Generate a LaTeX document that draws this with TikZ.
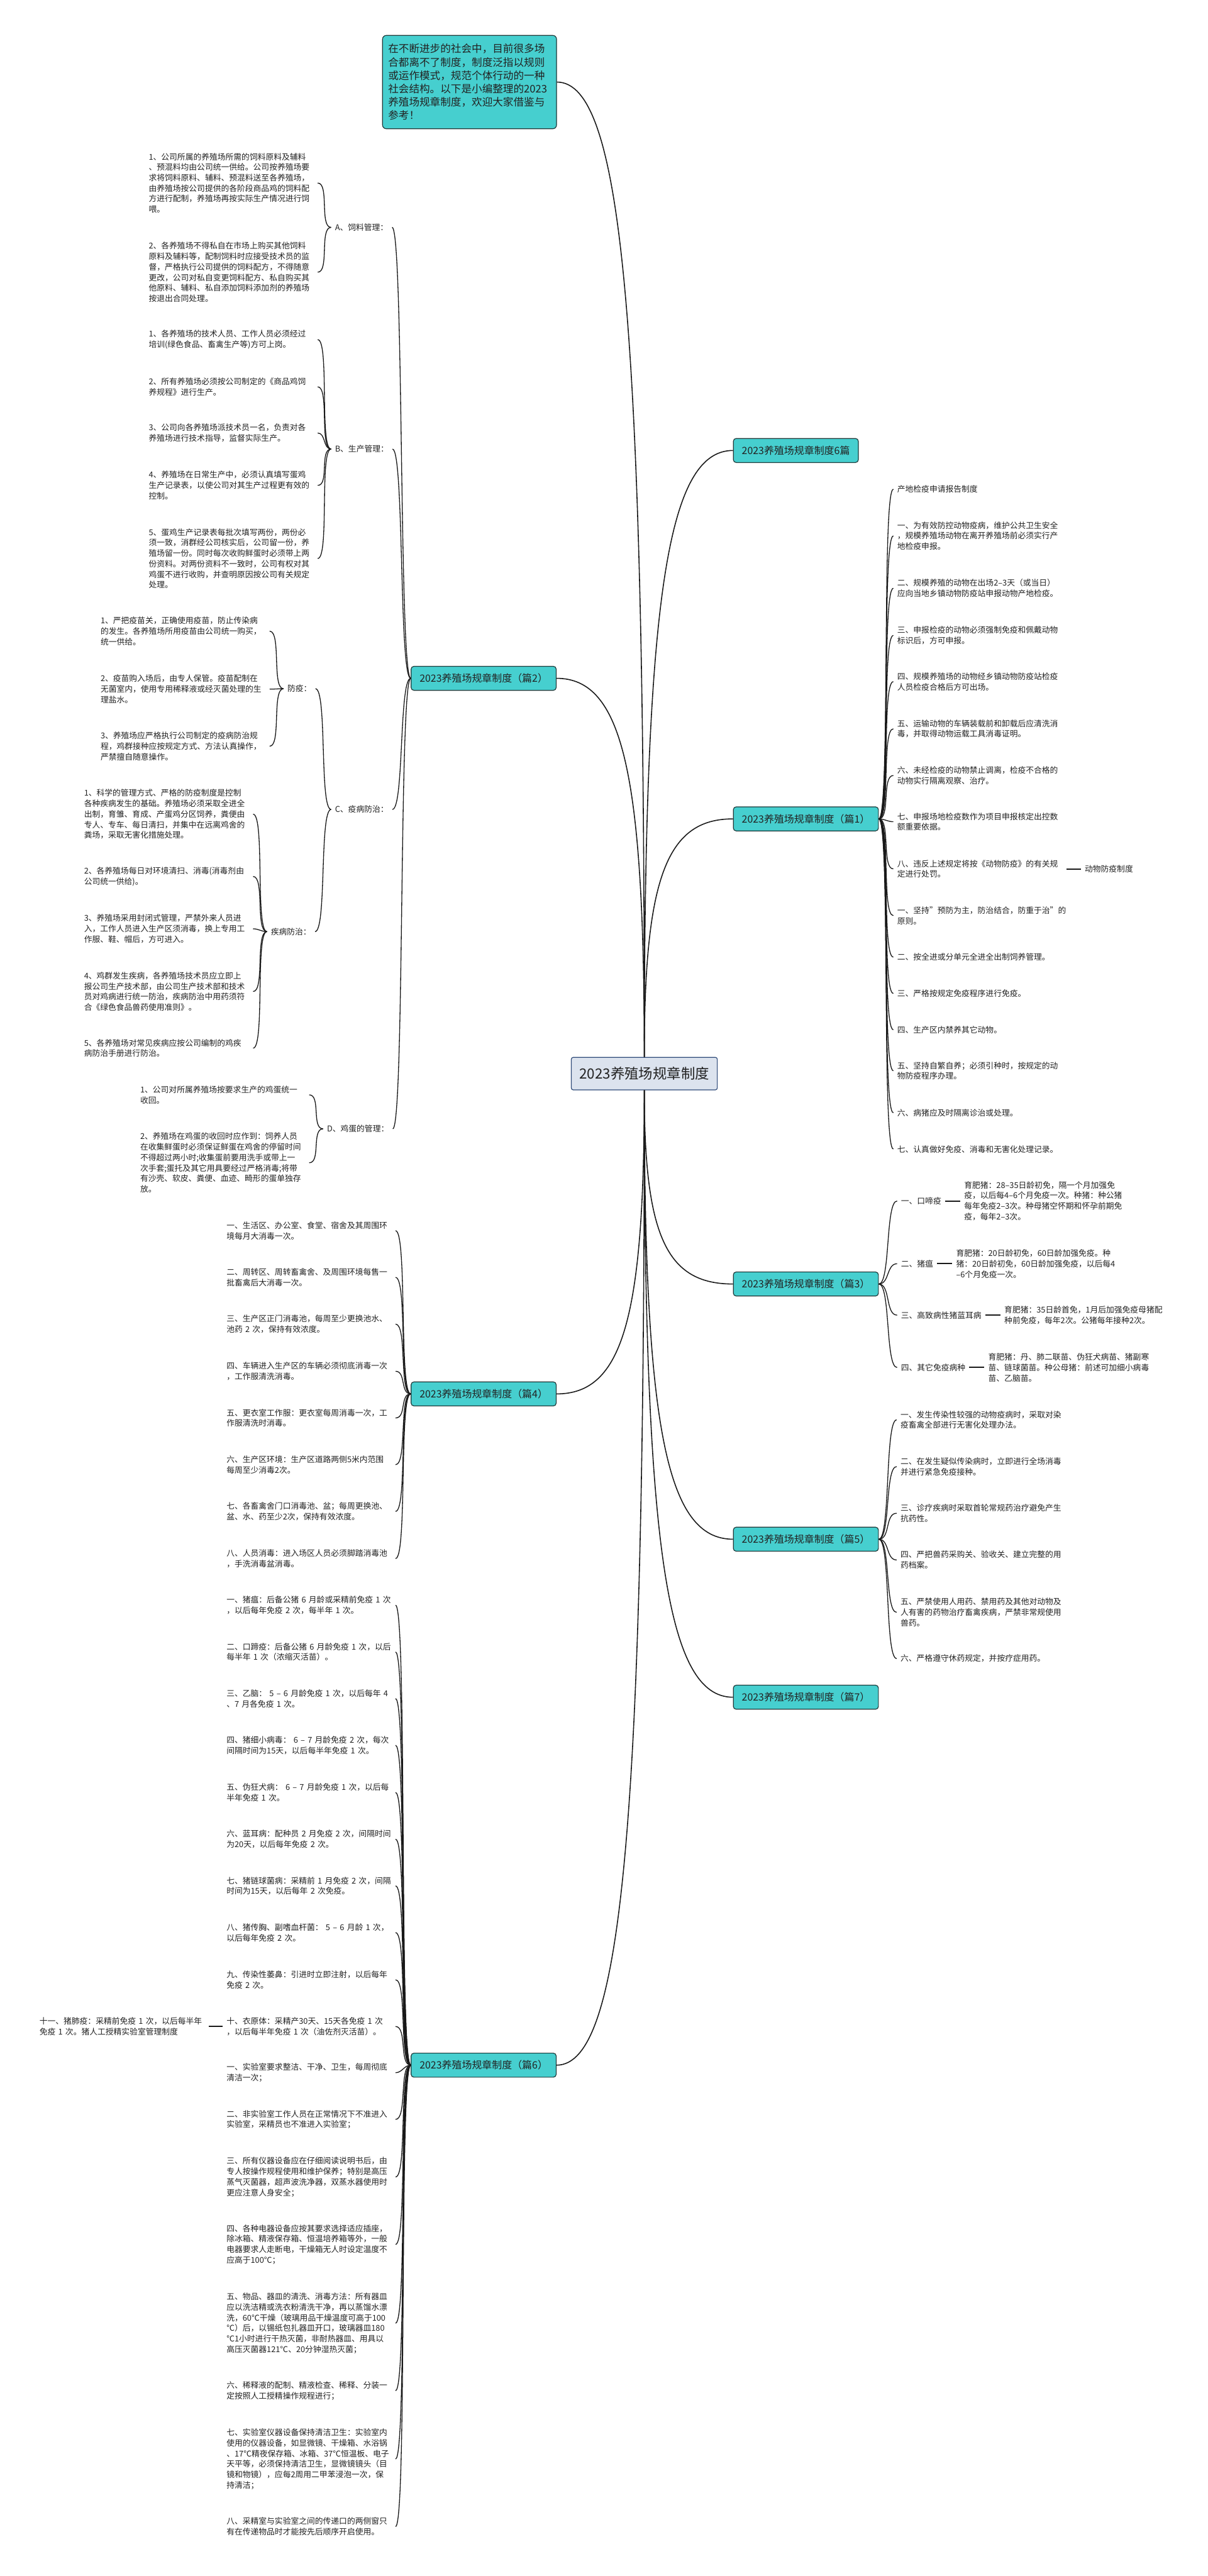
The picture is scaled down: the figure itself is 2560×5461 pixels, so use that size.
\documentclass[tikz,border=0pt]{standalone}
\usepackage{fontspec}
\setmainfont{Noto Sans CJK SC}
\usetikzlibrary{positioning}
\definecolor{tealFill}{HTML}{46CFCF}
\definecolor{tealLine}{HTML}{1E3A3A}
\definecolor{rootFill}{HTML}{DCE3EE}
\definecolor{rootLine}{HTML}{2E4A78}
\definecolor{inkDark}{HTML}{222222}

\begin{document}
\begin{tikzpicture}[
    x=0.02cm, y=-0.02cm,
    node distance=0.62cm,
    text=inkDark,
    root/.style={draw=rootLine, line width=0.9pt, fill=rootFill, rounded corners=0.08cm, minimum height=1.38cm, inner xsep=0.34cm, font=\fontsize{17}{20}\selectfont},
    branch/.style={draw=tealLine, line width=0.9pt, fill=tealFill, rounded corners=0.12cm, minimum height=1.02cm, inner xsep=0.36cm, font=\fontsize{12.1}{14}\selectfont},
    intro/.style={draw=tealLine, line width=0.9pt, fill=tealFill, rounded corners=0.16cm, text width=6.9cm, align=left, inner xsep=0.24cm, inner ysep=0.36cm, font=\fontsize{12.6}{16.1}\selectfont},
    leaf/.style={anchor=west, text width=7cm, align=left, inner xsep=0.16cm, inner ysep=0pt, font=\fontsize{9.7}{12.7}\selectfont},
    lbl/.style={anchor=west, inner xsep=0.16cm, inner ysep=0pt, font=\fontsize{9.7}{12.7}\selectfont},
    trunk/.style={line width=1.2pt, draw=black!90},
    twig/.style={line width=1pt, draw=black!90},
    stub/.style={line width=1.6pt, draw=black!90},
    rtwig/.style={out=0, in=180, max distance=0.5cm},
    ltwig/.style={out=180, in=0, max distance=0.5cm}
]
    \path[use as bounding box, fill=white] (0,0) rectangle (2560,5461);

    \node[root] (root) at (1366,2276) {2023养殖场规章制度};
    \node[intro] (intro) at (995.5,174) {在不断进步的社会中，目前很多场\\合都离不了制度，制度泛指以规则\\或运作模式，规范个体行动的一种\\社会结构。以下是小编整理的2023\\养殖场规章制度，欢迎大家借鉴与\\参考！};

    \node[branch, anchor=west] (all6) at (1554,955) {2023养殖场规章制度6篇};
    \node[branch, anchor=west] (p1) at (1554,1736) {2023养殖场规章制度（篇1）};
    \node[branch, anchor=east] (p2) at (1180,1438) {2023养殖场规章制度（篇2）};
    \node[branch, anchor=west] (p3) at (1554,2722) {2023养殖场规章制度（篇3）};
    \node[branch, anchor=east] (p4) at (1180,2955) {2023养殖场规章制度（篇4）};
    \node[branch, anchor=west] (p5) at (1554,3263) {2023养殖场规章制度（篇5）};
    \node[branch, anchor=east] (p6) at (1180,4378) {2023养殖场规章制度（篇6）};
    \node[branch, anchor=west] (p7) at (1554,3598) {2023养殖场规章制度（篇7）};

    \draw[trunk] (root.north) .. controls +(0,-1550) and +(140,0) .. (intro.east);
    \draw[trunk] (root.north) .. controls +(0,-965) and +(-141,0) .. (all6.west);
    \draw[trunk] (root.north) .. controls +(0,-379) and +(-141,0) .. (p1.west);
    \draw[trunk] (root.north) .. controls +(0,-602) and +(140,0) .. (p2.east);
    \draw[trunk] (root.south) .. controls +(0,309) and +(-141,0) .. (p3.west);
    \draw[trunk] (root.south) .. controls +(0,484) and +(140,0) .. (p4.east);
    \draw[trunk] (root.south) .. controls +(0,715) and +(-141,0) .. (p5.west);
    \draw[trunk] (root.south) .. controls +(0,1551) and +(140,0) .. (p6.east);
    \draw[trunk] (root.south) .. controls +(0,966) and +(-141,0) .. (p7.west);

    % 篇1
    \node[leaf] (p1a) at (1894,1037) {产地检疫申请报告制度};
    \node[leaf] (p1b) at (1894,1136) {一、为有效防控动物疫病，维护公共卫生安全\\，规模养殖场动物在离开养殖场前必须实行产\\地检疫申报。};
    \node[leaf] (p1c) at (1894,1247) {二、规模养殖的动物在出场2–3天（或当日）\\应向当地乡镇动物防疫站申报动物产地检疫。};
    \node[leaf] (p1d) at (1894,1347) {三、申报检疫的动物必须强制免疫和佩戴动物\\标识后，方可申报。};
    \node[leaf] (p1e) at (1894,1445) {四、规模养殖场的动物经乡镇动物防疫站检疫\\人员检疫合格后方可出场。};
    \node[leaf] (p1f) at (1894,1545) {五、运输动物的车辆装载前和卸载后应清洗消\\毒，并取得动物运载工具消毒证明。};
    \node[leaf] (p1g) at (1894,1644) {六、未经检疫的动物禁止调离，检疫不合格的\\动物实行隔离观察、治疗。};
    \node[leaf] (p1h) at (1894,1742) {七、申报场地检疫数作为项目申报核定出控数\\额重要依据。};
    \node[leaf] (p1i) at (1894,1842) {八、违反上述规定将按《动物防疫》的有关规\\定进行处罚。};
    \node[lbl, right=of p1i] (p1ii) {动物防疫制度};
    \node[leaf] (p1j) at (1894,1941) {一、坚持"预防为主，防治结合，防重于治"的\\原则。};
    \node[leaf] (p1k) at (1894,2029) {二、按全进或分单元全进全出制饲养管理。};
    \node[leaf] (p1l) at (1894,2106) {三、严格按规定免疫程序进行免疫。};
    \node[leaf] (p1m) at (1894,2183) {四、生产区内禁养其它动物。};
    \node[leaf] (p1n) at (1894,2270) {五、坚持自繁自养；必须引种时，按规定的动\\物防疫程序办理。};
    \node[leaf] (p1o) at (1894,2359) {六、病猪应及时隔离诊治或处理。};
    \node[leaf] (p1p) at (1894,2436) {七、认真做好免疫、消毒和无害化处理记录。};

    \draw[twig] (p1.east) edge[rtwig] (p1a.west) edge[rtwig] (p1b.west) edge[rtwig] (p1c.west)
        edge[rtwig] (p1d.west) edge[rtwig] (p1e.west) edge[rtwig] (p1f.west) edge[rtwig] (p1g.west)
        edge[rtwig] (p1h.west) edge[rtwig] (p1i.west) edge[rtwig] (p1j.west) edge[rtwig] (p1k.west)
        edge[rtwig] (p1l.west) edge[rtwig] (p1m.west) edge[rtwig] (p1n.west) edge[rtwig] (p1o.west)
        edge[rtwig] (p1p.west);
    \draw[stub] (p1i.east) -- (p1ii.west);

    % 篇2
    \node[lbl] (p2A) at (702,482) {A、饲料管理：};
    \node[lbl] (p2B) at (702,952) {B、生产管理：};
    \node[lbl] (p2C) at (702,1716) {C、疫病防治：};
    \node[lbl] (p2D) at (685,2393) {D、鸡蛋的管理：};
    \node[lbl] (p2F) at (601,1460) {防疫：};
    \node[lbl] (p2J) at (566,1975) {疾病防治：};

    \node[leaf] (p2A1) at (307,388) {1、公司所属的养殖场所需的饲料原料及辅料\\、预混料均由公司统一供给。公司按养殖场要\\求将饲料原料、辅料、预混料送至各养殖场，\\由养殖场按公司提供的各阶段商品鸡的饲料配\\方进行配制，养殖场再按实际生产情况进行饲\\喂。};
    \node[leaf] (p2A2) at (307,577) {2、各养殖场不得私自在市场上购买其他饲料\\原料及辅料等，配制饲料时应接受技术员的监\\督，严格执行公司提供的饲料配方，不得随意\\更改，公司对私自变更饲料配方、私自购买其\\他原料、辅料、私自添加饲料添加剂的养殖场\\按退出合同处理。};
    \node[leaf] (p2B1) at (307,720) {1、各养殖场的技术人员、工作人员必须经过\\培训(绿色食品、畜禽生产等)方可上岗。};
    \node[leaf] (p2B2) at (307,820) {2、所有养殖场必须按公司制定的《商品鸡饲\\养规程》进行生产。};
    \node[leaf] (p2B3) at (307,918) {3、公司向各养殖场派技术员一名，负责对各\\养殖场进行技术指导，监督实际生产。};
    \node[leaf] (p2B4) at (307,1029) {4、养殖场在日常生产中，必须认真填写蛋鸡\\生产记录表，以使公司对其生产过程更有效的\\控制。};
    \node[leaf] (p2B5) at (307,1184) {5、蛋鸡生产记录表每批次填写两份，两份必\\须一致，消群经公司核实后，公司留一份，养\\殖场留一份。同时每次收购鲜蛋时必须带上两\\份资料。对两份资料不一致时，公司有权对其\\鸡蛋不进行收购，并查明原因按公司有关规定\\处理。};
    \node[leaf] (p2F1) at (205,1338) {1、严把疫苗关，正确使用疫苗，防止传染病\\的发生。各养殖场所用疫苗由公司统一购买，\\统一供给。};
    \node[leaf] (p2F2) at (205,1461) {2、疫苗购入场后，由专人保管。疫苗配制在\\无菌室内，使用专用稀释液或经灭菌处理的生\\理盐水。};
    \node[leaf] (p2F3) at (205,1582) {3、养殖场应严格执行公司制定的疫病防治规\\程，鸡群接种应按规定方式、方法认真操作，\\严禁擅自随意操作。};
    \node[leaf] (p2J1) at (170,1726) {1、科学的管理方式、严格的防疫制度是控制\\各种疾病发生的基础。养殖场必须采取全进全\\出制，育雏、育成、产蛋鸡分区饲养，粪便由\\专人、专车、每日清扫，并集中在远离鸡舍的\\粪场，采取无害化措施处理。};
    \node[leaf] (p2J2) at (170,1858) {2、各养殖场每日对环境清扫、消毒(消毒剂由\\公司统一供给)。};
    \node[leaf] (p2J3) at (170,1969) {3、养殖场采用封闭式管理，严禁外来人员进\\入，工作人员进入生产区须消毒，换上专用工\\作服、鞋、帽后，方可进入。};
    \node[leaf] (p2J4) at (170,2102) {4、鸡群发生疾病，各养殖场技术员应立即上\\报公司生产技术部，由公司生产技术部和技术\\员对鸡病进行统一防治，疾病防治中用药须符\\合《绿色食品兽药使用准则》。};
    \node[leaf] (p2J5) at (170,2222) {5、各养殖场对常见疾病应按公司编制的鸡疾\\病防治手册进行防治。};
    \node[leaf] (p2D1) at (289,2321) {1、公司对所属养殖场按要求生产的鸡蛋统一\\收回。};
    \node[leaf] (p2D2) at (289,2465) {2、养殖场在鸡蛋的收回时应作到：饲养人员\\在收集鲜蛋时必须保证鲜蛋在鸡舍的停留时间\\不得超过两小时;收集蛋前要用洗手或带上一\\次手套;蛋托及其它用具要经过严格消毒;将带\\有沙壳、软皮、粪便、血迹、畸形的蛋单独存\\放。};

    \draw[twig] (p2.west) edge[ltwig] (p2A.east) edge[ltwig] (p2B.east) edge[ltwig] (p2C.east) edge[ltwig] (p2D.east);
    \draw[twig] (p2A.west) edge[ltwig] (p2A1.east) edge[ltwig] (p2A2.east);
    \draw[twig] (p2B.west) edge[ltwig] (p2B1.east) edge[ltwig] (p2B2.east) edge[ltwig] (p2B3.east)
        edge[ltwig] (p2B4.east) edge[ltwig] (p2B5.east);
    \draw[twig] (p2C.west) edge[ltwig] (p2F.east) edge[ltwig] (p2J.east);
    \draw[twig] (p2F.west) edge[ltwig] (p2F1.east) edge[ltwig] (p2F2.east) edge[ltwig] (p2F3.east);
    \draw[twig] (p2J.west) edge[ltwig] (p2J1.east) edge[ltwig] (p2J2.east) edge[ltwig] (p2J3.east)
        edge[ltwig] (p2J4.east) edge[ltwig] (p2J5.east);
    \draw[twig] (p2D.west) edge[ltwig] (p2D1.east) edge[ltwig] (p2D2.east);

    % 篇3
    \node[lbl] (p3a) at (1902,2546) {一、口啼疫};
    \node[lbl] (p3b) at (1902,2679) {二、猪瘟};
    \node[lbl] (p3c) at (1902,2788) {三、高致病性猪蓝耳病};
    \node[lbl] (p3d) at (1902,2899) {四、其它免疫病种};
    \node[leaf, right=0.64cm of p3a] (p3aa) {育肥猪：28–35日龄初免，隔一个月加强免\\疫，以后每4–6个月免疫一次。种猪：种公猪\\每年免疫2–3次。种母猪空怀期和怀孕前期免\\疫，每年2–3次。};
    \node[leaf, right=0.64cm of p3b] (p3bb) {育肥猪：20日龄初免，60日龄加强免疫。种\\猪：20日龄初免，60日龄加强免疫，以后每4\\–6个月免疫一次。};
    \node[leaf, right=0.64cm of p3c] (p3cc) {育肥猪：35日龄首免，1月后加强免疫母猪配\\种前免疫，每年2次。公猪每年接种2次。};
    \node[leaf, right=0.64cm of p3d] (p3dd) {育肥猪：丹、肺二联苗、伪狂犬病苗、猪副寒\\苗、链球菌苗。种公母猪：前述可加细小病毒\\苗、乙脑苗。};

    \draw[twig] (p3.east) edge[rtwig] (p3a.west) edge[rtwig] (p3b.west) edge[rtwig] (p3c.west) edge[rtwig] (p3d.west);
    \draw[stub] (p3a.east) -- (p3aa.west);
    \draw[stub] (p3b.east) -- (p3bb.west);
    \draw[stub] (p3c.east) -- (p3cc.west);
    \draw[stub] (p3d.east) -- (p3dd.west);

    % 篇4
    \node[leaf] (p4a) at (472,2609) {一、生活区、办公室、食堂、宿舍及其周围环\\境每月大消毒一次。};
    \node[leaf] (p4b) at (472,2708) {二、周转区、周转畜禽舍、及周围环境每售一\\批畜禽后大消毒一次。};
    \node[leaf] (p4c) at (472,2807) {三、生产区正门消毒池，每周至少更换池水、\\池药~2~次，保持有效浓度。};
    \node[leaf] (p4d) at (472,2907) {四、车辆进入生产区的车辆必须彻底消毒一次\\，工作服清洗消毒。};
    \node[leaf] (p4e) at (472,3006) {五、更衣室工作服：更衣室每周消毒一次，工\\作服清洗时消毒。};
    \node[leaf] (p4f) at (472,3105) {六、生产区环境：生产区道路两侧5米内范围\\每周至少消毒2次。};
    \node[leaf] (p4g) at (472,3204) {七、各畜禽舍门口消毒池、盆；每周更换池、\\盆、水、药至少2次，保持有效浓度。};
    \node[leaf] (p4h) at (472,3304) {八、人员消毒：进入场区人员必须脚踏消毒池\\，手洗消毒盆消毒。};

    \draw[twig] (p4.west) edge[ltwig] (p4a.east) edge[ltwig] (p4b.east) edge[ltwig] (p4c.east) edge[ltwig] (p4d.east)
        edge[ltwig] (p4e.east) edge[ltwig] (p4f.east) edge[ltwig] (p4g.east) edge[ltwig] (p4h.east);

    % 篇5
    \node[leaf] (p5a) at (1901,3010) {一、发生传染性较强的动物疫病时，采取对染\\疫畜禽全部进行无害化处理办法。};
    \node[leaf] (p5b) at (1901,3109) {二、在发生疑似传染病时，立即进行全场消毒\\并进行紧急免疫接种。};
    \node[leaf] (p5c) at (1901,3208) {三、诊疗疾病时采取首轮常规药治疗避免产生\\抗药性。};
    \node[leaf] (p5d) at (1901,3307) {四、严把兽药采购关、验收关、建立完整的用\\药档案。};
    \node[leaf] (p5e) at (1901,3418) {五、严禁使用人用药、禁用药及其他对动物及\\人有害的药物治疗畜禽疾病，严禁非常规使用\\兽药。};
    \node[leaf] (p5f) at (1901,3516) {六、严格遵守休药规定，并按疗症用药。};

    \draw[twig] (p5.east) edge[rtwig] (p5a.west) edge[rtwig] (p5b.west) edge[rtwig] (p5c.west)
        edge[rtwig] (p5d.west) edge[rtwig] (p5e.west) edge[rtwig] (p5f.west);

    % 篇6
    \node[leaf] (p6a) at (472,3403) {一、猪瘟：后备公猪~6~月龄或采精前免疫~1~次\\，以后每年免疫~2~次，每半年~1~次。};
    \node[leaf] (p6b) at (472,3502) {二、口蹄疫：后备公猪~6~月龄免疫~1~次，以后\\每半年~1~次（浓缩灭活苗）。};
    \node[leaf] (p6c) at (472,3601) {三、乙脑：~5~–~6~月龄免疫~1~次，以后每年~4\\、7~月各免疫~1~次。};
    \node[leaf] (p6d) at (472,3700) {四、猪细小病毒：~6~–~7~月龄免疫~2~次，每次\\间隔时间为15天，以后每半年免疫~1~次。};
    \node[leaf] (p6e) at (472,3800) {五、伪狂犬病：~6~–~7~月龄免疫~1~次，以后每\\半年免疫~1~次。};
    \node[leaf] (p6f) at (472,3899) {六、蓝耳病：配种员~2~月免疫~2~次，间隔时间\\为20天，以后每年免疫~2~次。};
    \node[leaf] (p6g) at (472,3998) {七、猪链球菌病：采精前~1~月免疫~2~次，间隔\\时间为15天，以后每年~2~次免疫。};
    \node[leaf] (p6h) at (472,4097) {八、猪传胸、副嗜血杆菌：~5~–~6~月龄~1~次，\\以后每年免疫~2~次。};
    \node[leaf] (p6i) at (472,4197) {九、传染性萎鼻：引进时立即注射，以后每年\\免疫~2~次。};
    \node[leaf] (p6j) at (472,4296) {十、衣原体：采精产30天、15天各免疫~1~次\\，以后每半年免疫~1~次（油佐剂灭活苗）。};
    \node[leaf, left=0.6cm of p6j] (p6jj) {十一、猪肺疫：采精前免疫~1~次，以后每半年\\免疫~1~次。猪人工授精实验室管理制度};
    \node[leaf] (p6k) at (472,4394) {一、实验室要求整洁、干净、卫生，每周彻底\\清洁一次；};
    \node[leaf] (p6l) at (472,4493) {二、非实验室工作人员在正常情况下不准进入\\实验室，采精员也不准进入实验室；};
    \node[leaf] (p6m) at (472,4615) {三、所有仪器设备应在仔细阅读说明书后，由\\专人按操作规程使用和维护保养；特别是高压\\蒸气灭菌器，超声波洗净器，双蒸水器使用时\\更应注意人身安全；};
    \node[leaf] (p6n) at (472,4758) {四、各种电器设备应按其要求选择适应插座，\\除冰箱、精液保存箱、恒温培养箱等外，一般\\电器要求人走断电，干燥箱无人时设定温度不\\应高于100℃；};
    \node[leaf] (p6o) at (472,4925) {五、物品、器皿的清洗、消毒方法：所有器皿\\应以洗洁精或洗衣粉清洗干净，再以蒸馏水漂\\洗，60℃干燥（玻璃用品干燥温度可高于100\\℃）后，以锡纸包扎器皿开口，玻璃器皿180\\℃1小时进行干热灭菌，非耐热器皿、用具以\\高压灭菌器121℃、20分钟湿热灭菌；};
    \node[leaf] (p6p) at (472,5068) {六、稀释液的配制、精液检查、稀释、分装一\\定按照人工授精操作规程进行；};
    \node[leaf] (p6q) at (472,5213) {七、实验室仪器设备保持清洁卫生：实验室内\\使用的仪器设备，如显微镜、干燥箱、水浴锅\\、17℃精夜保存箱、冰箱、37℃恒温板、电子\\天平等，必须保持清洁卫生，显微镜镜头（目\\镜和物镜），应每2周用二甲苯浸泡一次，保\\持清洁；};
    \node[leaf] (p6r) at (472,5356) {八、采精室与实验室之间的传递口的两侧窗只\\有在传递物品时才能按先后顺序开启使用。};

    \draw[twig] (p6.west) edge[ltwig] (p6a.east) edge[ltwig] (p6b.east) edge[ltwig] (p6c.east) edge[ltwig] (p6d.east)
        edge[ltwig] (p6e.east) edge[ltwig] (p6f.east) edge[ltwig] (p6g.east) edge[ltwig] (p6h.east)
        edge[ltwig] (p6i.east) edge[ltwig] (p6j.east) edge[ltwig] (p6k.east) edge[ltwig] (p6l.east)
        edge[ltwig] (p6m.east) edge[ltwig] (p6n.east) edge[ltwig] (p6o.east) edge[ltwig] (p6p.east)
        edge[ltwig] (p6q.east) edge[ltwig] (p6r.east);
    \draw[stub] (p6j.west) -- (p6jj.east);
\end{tikzpicture}
\end{document}
